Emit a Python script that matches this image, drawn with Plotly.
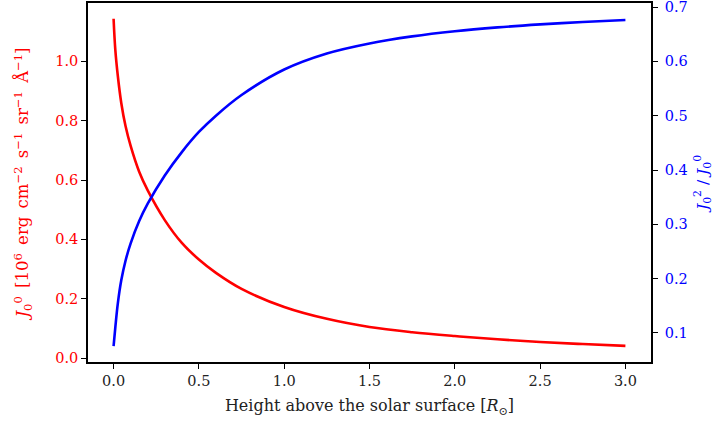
import plotly.graph_objects as go

heights = [0.0, 0.01, 0.025, 0.045, 0.07, 0.1, 0.15, 0.2, 0.3, 0.4, 0.5, 0.6, 0.75,
           1.0, 1.25, 1.5, 1.75, 2.0, 2.25, 2.5, 2.75, 3.0]
j00 = [1.144, 1.04, 0.95, 0.86, 0.782, 0.715, 0.628, 0.565, 0.465, 0.388, 0.332, 0.287, 0.233,
       0.172, 0.132, 0.1045, 0.087, 0.074, 0.063, 0.054, 0.047, 0.041]
ratio = [0.076, 0.11, 0.155, 0.197, 0.233, 0.265, 0.306, 0.338, 0.390, 0.433, 0.470, 0.500, 0.538,
         0.585, 0.6145, 0.633, 0.646, 0.6555, 0.6625, 0.668, 0.6725, 0.676]

x_ticks = [0.0, 0.5, 1.0, 1.5, 2.0, 2.5, 3.0]
y_ticks = [0.0, 0.2, 0.4, 0.6, 0.8, 1.0]
y2_ticks = [0.1, 0.2, 0.3, 0.4, 0.5, 0.6, 0.7]

FONT = "DejaVu Serif"
TS = 14.5
SP = "\u2002"

fig = go.Figure()
fig.add_trace(go.Scatter(x=heights, y=j00, mode="lines",
                         line=dict(color="#ff0000", width=2.6, shape="spline", smoothing=1.0),
                         showlegend=False, yaxis="y"))
fig.add_trace(go.Scatter(x=heights, y=ratio, mode="lines",
                         line=dict(color="#0000ff", width=2.6, shape="spline", smoothing=1.0),
                         showlegend=False, yaxis="y2"))

common = dict(showgrid=False, zeroline=False, showline=True, linecolor="black", linewidth=1.6,
              ticks="outside", ticklen=5, tickwidth=1.3, tickcolor="black", automargin=False,
              ticklabeloverflow="allow")

left_title = ("<i>J</i><sub>0</sub><sup>0</sup>" + SP + "[10<sup>6</sup>" + SP + "erg" + SP +
              "cm<sup>−2</sup>" + SP + "s<sup>−1</sup>" + SP + "sr<sup>−1</sup>" + SP + "Å<sup>−1</sup>]")

fig.update_layout(
    width=717, height=425,
    margin=dict(l=88, r=66, t=3, b=63),
    paper_bgcolor="white", plot_bgcolor="white",
    font=dict(family=FONT, size=TS, color="black"),
    xaxis=dict(range=[-0.15, 3.15], tickvals=x_ticks, ticktext=[f"{v:.1f}" for v in x_ticks],
               mirror=True, tickfont=dict(family=FONT, size=TS, color="#222"),
               title=dict(text="Height above the solar surface [<i>R</i><sub>⊙</sub>]",
                          font=dict(family=FONT, size=16, color="#222"), standoff=12),
               **common),
    yaxis=dict(range=[-0.0135, 1.197], tickvals=y_ticks, ticktext=[f"{v:.1f}" for v in y_ticks],
               mirror=True, tickfont=dict(family=FONT, size=TS, color="#ff0000"),
               title=dict(text=left_title,
                          font=dict(family=FONT, size=16.5, color="#ff0000"), standoff=22),
               **common),
    yaxis2=dict(range=[0.0466, 0.7074], tickvals=y2_ticks, ticktext=[f"{v:.1f}" for v in y2_ticks],
                overlaying="y", side="right", anchor="x", ticklabelstandoff=4,
                tickfont=dict(family=FONT, size=TS, color="#0000ff"),
                title=dict(text="<i>J</i><sub>0</sub><sup>2</sup> / <i>J</i><sub>0</sub><sup>0</sup>",
                           font=dict(family=FONT, size=15.5, color="#0000ff"), standoff=10),
                **common),
)

fig.write_html("out.html", config={"displayModeBar": False},
               post_script="document.body.style.margin='0px';")
